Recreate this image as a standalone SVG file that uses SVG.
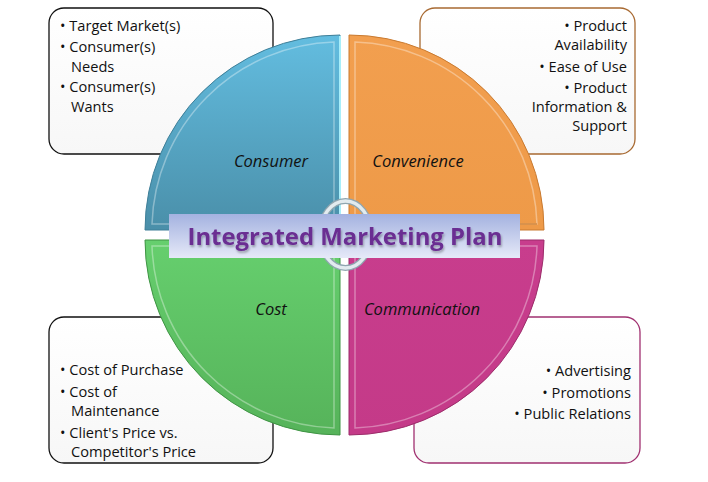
<svg xmlns="http://www.w3.org/2000/svg" width="708" height="482" viewBox="0 0 708 482">
<defs>
<linearGradient id="gBlue" x1="0" y1="0" x2="0" y2="1"><stop offset="0" stop-color="#63bde0"/><stop offset="1" stop-color="#4a8fa9"/></linearGradient>
<linearGradient id="gOrange" x1="0" y1="0" x2="0" y2="1"><stop offset="0" stop-color="#f29f4f"/><stop offset="1" stop-color="#ee9a48"/></linearGradient>
<linearGradient id="gGreen" x1="0" y1="0" x2="0" y2="1"><stop offset="0" stop-color="#66cf6e"/><stop offset="1" stop-color="#56b35a"/></linearGradient>
<linearGradient id="gPink" x1="0" y1="0" x2="0" y2="1"><stop offset="0" stop-color="#c83d8d"/><stop offset="1" stop-color="#c43a88"/></linearGradient>
<linearGradient id="gBox" x1="0" y1="0" x2="0" y2="1"><stop offset="0" stop-color="#ffffff"/><stop offset="1" stop-color="#f7f7f7"/></linearGradient>
<linearGradient id="gTitle" x1="0" y1="0" x2="0" y2="1"><stop offset="0" stop-color="#a4b2e0"/><stop offset="1" stop-color="#e6e9f8"/></linearGradient>
<filter id="sh" x="-5%" y="-20%" width="110%" height="150%"><feGaussianBlur in="SourceAlpha" stdDeviation="1"/><feOffset dx="1" dy="1.5" result="b"/><feFlood flood-color="#000" flood-opacity="0.3"/><feComposite in2="b" operator="in"/><feMerge><feMergeNode/><feMergeNode in="SourceGraphic"/></feMerge></filter>
</defs>
<style>
.box{fill:url(#gBox);stroke-width:1.3}
.t{font-family:"Open Sans","Liberation Sans",sans-serif;font-size:14.6px;fill:#111}
.r{text-anchor:end}
.lab{font-family:"Open Sans","Liberation Sans",sans-serif;font-size:16.5px;font-style:italic;fill:#111;text-anchor:middle}
.rim{fill:none;stroke:#fff;stroke-opacity:0.35;stroke-width:1.5}
</style>
<rect width="708" height="482" fill="#fff"/>
<g id="box-consumer">
<rect class="box" x="49" y="8" width="224" height="146" rx="15" stroke="#111"/>
<text class="t" x="60" y="31">• Target Market(s)</text>
<text class="t" x="60" y="52">• Consumer(s)</text>
<text class="t" x="71" y="72">Needs</text>
<text class="t" x="60" y="92">• Consumer(s)</text>
<text class="t" x="71" y="112">Wants</text>
</g>
<g id="box-convenience">
<rect class="box" x="420" y="8" width="215" height="146" rx="15" stroke="#a86a32"/>
<text class="t r" x="627" y="31">• Product</text>
<text class="t r" x="627" y="50">Availability</text>
<text class="t r" x="627" y="72">•  Ease of Use</text>
<text class="t r" x="627" y="93">• Product</text>
<text class="t r" x="627" y="112">Information &amp;</text>
<text class="t r" x="627" y="131">Support</text>
</g>
<g id="box-cost">
<rect class="box" x="49" y="317" width="224" height="146" rx="15" stroke="#111"/>
<text class="t" x="60" y="375">• Cost of Purchase</text>
<text class="t" x="60" y="397">• Cost of</text>
<text class="t" x="71" y="416">Maintenance</text>
<text class="t" x="60" y="438">• Client's Price vs.</text>
<text class="t" x="71" y="457">Competitor's Price</text>
</g>
<g id="box-communication">
<rect class="box" x="414" y="317" width="226" height="146" rx="15" stroke="#a03070"/>
<text class="t r" x="631" y="376">• Advertising</text>
<text class="t r" x="631" y="398">• Promotions</text>
<text class="t r" x="631" y="419">• Public Relations</text>
</g>
<g id="connectors"></g>
<g id="q-consumer">
<path d="M340,230 V35 A195,195 0 0 0 145,230 Z" fill="url(#gBlue)" stroke="#3f7f98" stroke-width="1"/>
<path d="M334,224 V42 A188,188 0 0 0 152,224 Z" class="rim"/>
<path d="M340,36 V230" stroke="#a8eefa" stroke-width="2"/>
<text class="lab" x="271" y="167">Consumer</text>
</g>
<g id="q-convenience">
<path d="M349,230 V35 A195,195 0 0 1 544,230 Z" fill="url(#gOrange)" stroke="#c97a30" stroke-width="1"/>
<path d="M355,224 V42 A188,188 0 0 1 537,224 Z" class="rim"/>
<path d="M360,224 H537" stroke="#c07020" stroke-width="2" stroke-opacity="0.5"/>
<text class="lab" x="418" y="167">Convenience</text>
</g>
<g id="q-cost">
<path d="M340,240 H145 A195,195 0 0 0 340,435 Z" fill="url(#gGreen)" stroke="#3f9444" stroke-width="1"/>
<path d="M334,246 H152 A188,188 0 0 0 334,428 Z" class="rim"/>
<text class="lab" x="271" y="315">Cost</text>
</g>
<g id="q-communication">
<path d="M349,240 V435 A195,195 0 0 0 544,240 Z" fill="url(#gPink)" stroke="#9c2c6a" stroke-width="1"/>
<path d="M355,246 V428 A188,188 0 0 0 537,246 Z" class="rim" stroke-opacity="0.5"/>
<text class="lab" x="422" y="315">Communication</text>
</g>
<g id="ring">
<ellipse cx="345.5" cy="234.5" rx="25.5" ry="33.5" fill="none" stroke="#8fa6b0" stroke-width="6"/>
<ellipse cx="345.5" cy="234.5" rx="25.5" ry="33.5" fill="none" stroke="#e2ebef" stroke-width="3.5"/>
</g>
<g id="title">
<rect x="169" y="214" width="351" height="44" fill="url(#gTitle)"/>
<text x="345" y="245" text-anchor="middle" font-family="'Open Sans','Liberation Sans',sans-serif" font-weight="bold" font-size="24" fill="#6b2d92" textLength="315" lengthAdjust="spacingAndGlyphs" filter="url(#sh)">Integrated Marketing Plan</text>
</g>
</svg>
